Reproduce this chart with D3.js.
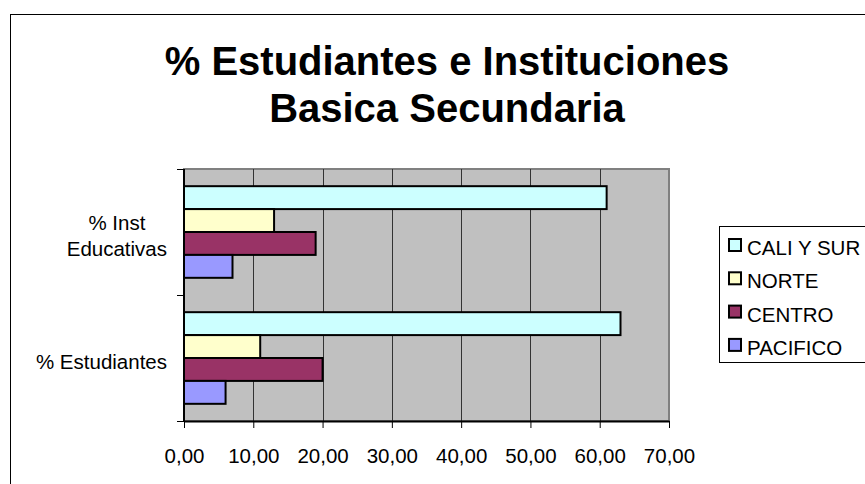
<!DOCTYPE html>
<html>
<head>
<meta charset="utf-8">
<script src="https://cdn.jsdelivr.net/npm/d3@7"></script>
<style>
  body { margin: 0; background: #fff; }
  text { font-family: "Liberation Sans", Arial, sans-serif; fill: #000; }
</style>
</head>
<body>
<div id="root"></div>
<script>
const width = 865;
const height = 484;

// data
const categories = ["% Inst Educativas", "% Estudiantes"];
const categoryLines = [["% Inst", "Educativas"], ["% Estudiantes"]];
const seriesNames = ["CALI Y SUR", "NORTE", "CENTRO", "PACIFICO"];
const caliYSur = [61, 63];
const norte = [13, 11];
const centro = [19, 20];
const pacifico = [7, 6];
const seriesColors = ["#CCFFFF", "#FFFFCC", "#993366", "#9999FF"];
const xTicks = [0, 10, 20, 30, 40, 50, 60, 70];
const titleLines = ["% Estudiantes e Instituciones", "Basica Secundaria"];

const seriesValues = [caliYSur, norte, centro, pacifico];

const plot = { left: 184, top: 169, right: 669, bottom: 421 };
const fontSize = "20.5px";

const x = d3.scaleLinear().domain([0, 70]).range([plot.left, plot.right]);
const y0 = d3.scaleBand().domain(categories).range([plot.top, plot.bottom]);
const y1 = d3.scaleBand().domain(seriesNames)
    .range([0, y0.bandwidth()])
    .paddingInner(0)
    .paddingOuter(0.75);

const fmt = (v) => v.toFixed(2).replace(".", ",");

const svg = d3.select("#root")
    .append("svg")
    .attr("width", width)
    .attr("height", height);

// outer chart border (runs off the right and bottom edges)
svg.append("rect")
    .attr("x", 10.5)
    .attr("y", 14.5)
    .attr("width", 880)
    .attr("height", 490)
    .attr("fill", "#fff")
    .attr("stroke", "#000")
    .attr("stroke-width", 1);

// title
const title = svg.append("text")
    .attr("text-anchor", "middle")
    .attr("font-weight", "bold")
    .attr("font-size", "40px");

title.selectAll("tspan")
    .data(titleLines)
    .enter().append("tspan")
    .attr("x", 447)
    .attr("y", (d, i) => 75 + i * 47)
    .text(d => d);

// plot area
svg.append("rect")
    .attr("x", plot.left)
    .attr("y", plot.top)
    .attr("width", plot.right - plot.left)
    .attr("height", plot.bottom - plot.top)
    .attr("fill", "#C0C0C0")
    .attr("stroke", "#808080")
    .attr("stroke-width", 2);

// vertical gridlines
svg.append("g")
    .selectAll("line")
    .data(xTicks.slice(1, -1))
    .enter().append("line")
    .attr("x1", d => Math.round(x(d)) + 0.5)
    .attr("x2", d => Math.round(x(d)) + 0.5)
    .attr("y1", plot.top)
    .attr("y2", plot.bottom)
    .attr("stroke", "#333")
    .attr("stroke-width", 1);

// bars
const groups = svg.append("g")
    .selectAll("g")
    .data(categories)
    .enter().append("g")
    .attr("transform", d => `translate(0,${y0(d)})`);

groups.selectAll("rect")
    .data((c, ci) => seriesNames.map((s, si) => ({ s, si, v: seriesValues[si][ci] })))
    .enter().append("rect")
    .attr("x", x(0))
    .attr("y", d => y1(d.s))
    .attr("width", d => x(d.v) - x(0))
    .attr("height", y1.bandwidth())
    .attr("fill", d => seriesColors[d.si])
    .attr("stroke", "#000")
    .attr("stroke-width", 2);

// x axis
const xAxis = svg.append("g")
    .attr("transform", `translate(0,${plot.bottom})`)
    .call(d3.axisBottom(x).tickValues(xTicks).tickSize(7).tickSizeOuter(0).tickFormat(fmt));

xAxis.select(".domain").attr("stroke", "#000").attr("stroke-width", 2);
xAxis.selectAll(".tick line").attr("stroke", "#000");
xAxis.selectAll(".tick text")
    .attr("y", 0)
    .attr("dy", null)
    .attr("transform", "translate(0,42)")
    .attr("font-size", fontSize)
    .attr("font-family", null);

// y axis: tick marks at the category boundaries
const yBounds = [plot.top, y0(categories[1]), plot.bottom];
const yAxis = svg.append("g");
yAxis.append("line")
    .attr("x1", plot.left)
    .attr("x2", plot.left)
    .attr("y1", plot.top)
    .attr("y2", plot.bottom)
    .attr("stroke", "#000")
    .attr("stroke-width", 2);
yAxis.selectAll(".yt")
    .data(yBounds)
    .enter().append("line")
    .attr("class", "yt")
    .attr("x1", plot.left - 7)
    .attr("x2", plot.left)
    .attr("y1", d => Math.round(d) + 0.5)
    .attr("y2", d => Math.round(d) + 0.5)
    .attr("stroke", "#000");

// category labels, lines centred, block right-aligned to the axis
categories.forEach((c, i) => {
    const lines = categoryLines[i];
    const lh = 26;
    const cy = y0(c) + y0.bandwidth() / 2 + 3.5;
    const t = svg.append("text")
        .attr("text-anchor", "middle")
        .attr("font-size", fontSize);
    t.selectAll("tspan")
        .data(lines)
        .enter().append("tspan")
        .attr("x", 0)
        .attr("y", (d, j) => cy + 7 + (j - (lines.length - 1) / 2) * lh)
        .text(d => d);
    const w = d3.max(t.selectAll("tspan").nodes(), n => n.getComputedTextLength());
    t.attr("transform", `translate(${167 - w / 2},0)`);
});

// legend
const legend = svg.append("g");
legend.append("rect")
    .attr("x", 719.5)
    .attr("y", 226.5)
    .attr("width", 170)
    .attr("height", 136)
    .attr("fill", "#fff")
    .attr("stroke", "#000");

const item = legend.selectAll(".item")
    .data(seriesNames)
    .enter().append("g")
    .attr("class", "item")
    .attr("transform", (d, i) => `translate(0,${245 + i * 33.3})`);

item.append("rect")
    .attr("x", 729)
    .attr("y", -6)
    .attr("width", 12)
    .attr("height", 12)
    .attr("fill", (d, i) => seriesColors[i])
    .attr("stroke", "#000")
    .attr("stroke-width", 2);

item.append("text")
    .attr("x", 747)
    .attr("y", 10)
    .attr("font-size", fontSize)
    .text(d => d);
</script>
</body>
</html>
